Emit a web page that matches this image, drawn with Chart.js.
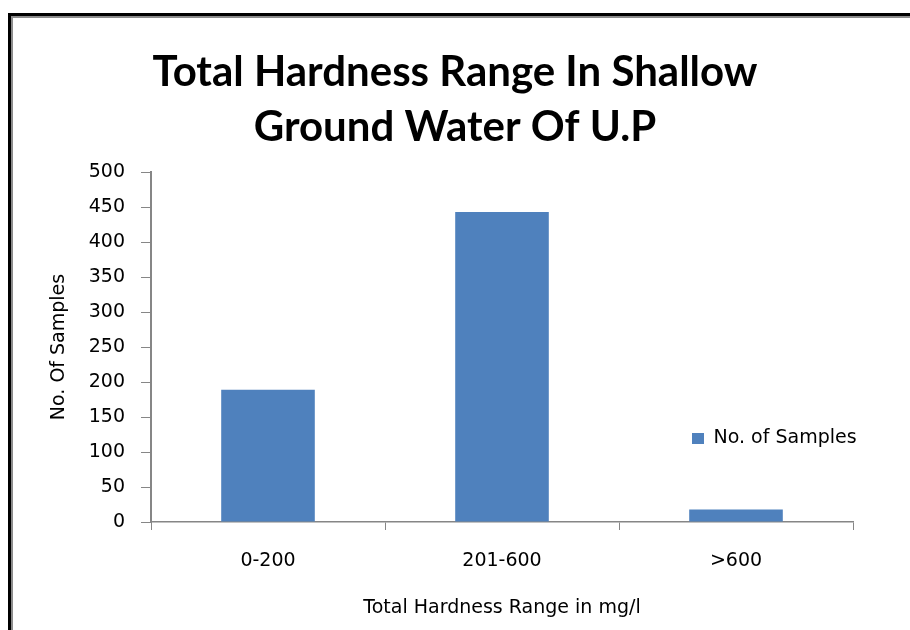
<!DOCTYPE html>
<html><head><meta charset="utf-8">
<script src="https://cdn.jsdelivr.net/npm/chart.js@4/dist/chart.umd.min.js"></script>
<style>
html,body{margin:0;padding:0;background:#fff;}
#wrap{position:relative;width:910px;height:630px;overflow:hidden;background:#fff;}
#frame{position:absolute;left:8px;top:13px;width:1000px;height:700px;border-left:3px solid #000;border-top:3px solid #000;}
#frame2{position:absolute;left:11px;top:16px;width:1000px;height:700px;border-left:2px solid #8c8c8c;border-top:2px solid #8c8c8c;}
canvas{position:absolute;left:0;top:0;}
</style></head>
<body><div id="wrap"><div id="frame"></div><div id="frame2"></div><canvas id="c" width="910" height="630"></canvas></div>
<script>
const categories = ['0-200', '201-600', '>600'];
const samples = [189, 443, 18];
const yTickValues = [0, 50, 100, 150, 200, 250, 300, 350, 400, 450, 500];
const seriesName = 'No. of Samples';
const titleLines = ['Total Hardness Range In Shallow', 'Ground Water Of U.P'];
const xTitle = 'Total Hardness Range in mg/l';
const yTitle = 'No. Of Samples';

const LBL = '"DejaVu Sans", sans-serif';
const TTL = 'Lato, "Liberation Sans", sans-serif';
const AXIS = '#868686';
const lblFont = {family: LBL, size: 19, weight: 'normal'};

const legendPlacer = {
  id: 'legendPlacer',
  afterLayout(chart) {
    const lg = chart.legend, ca = chart.chartArea;
    if (!lg) return;
    lg.left = ca.right - 171;
    lg.right = lg.left + 230;
    lg.top = 419;
    lg.bottom = lg.top + 60;
    lg.width = lg.right - lg.left;
    lg.height = lg.bottom - lg.top;
  }
};

new Chart(document.getElementById('c'), {
  type: 'bar',
  data: {
    labels: categories,
    datasets: [{
      label: seriesName,
      data: samples,
      backgroundColor: '#4F81BD',
      borderWidth: 0,
      categoryPercentage: 1,
      barPercentage: 0.4
    }]
  },
  options: {
    responsive: false,
    animation: false,
    devicePixelRatio: 1,
    layout: {padding: {left: 0, right: 0, top: 0, bottom: 0}},
    plugins: {
      title: {
        display: true,
        text: titleLines,
        color: '#000',
        font: {family: TTL, size: 42, weight: 'bold', lineHeight: 55 / 42},
        padding: {top: 45, bottom: 17}
      },
      legend: {
        display: true,
        position: 'chartArea',
        align: 'start',
        labels: {boxWidth: 12, boxHeight: 11, color: '#000', font: lblFont, padding: 10}
      },
      tooltip: {enabled: false}
    },
    scales: {
      x: {
        offset: true,
        grid: {offset: true, drawOnChartArea: false, drawTicks: true, tickLength: 8, color: AXIS, lineWidth: 1},
        border: {color: AXIS, width: 1.5},
        ticks: {color: '#000', font: lblFont, padding: 20},
        title: {display: true, text: xTitle, color: '#000', font: lblFont, padding: {top: 0, bottom: 11}},
        afterFit(s) { s.height = 108; }
      },
      y: {
        min: 0, max: 500,
        afterBuildTicks(s) { s.ticks = yTickValues.map(v => ({value: v})); },
        grid: {drawOnChartArea: false, drawTicks: true, tickLength: 10, color: AXIS, lineWidth: 1},
        border: {color: AXIS, width: 2},
        ticks: {color: '#000', font: lblFont, padding: 16},
        title: {display: true, text: yTitle, color: '#000', font: lblFont, padding: {top: 48, bottom: 0}},
        afterFit(s) { s.width = 151; }
      },
      spacer: {
        type: 'linear',
        position: 'right',
        display: true,
        grid: {display: false, drawTicks: false},
        border: {display: false},
        ticks: {display: false},
        afterFit(s) { s.width = 57; }
      }
    }
  },
  plugins: [legendPlacer]
});
</script>
</body></html>
